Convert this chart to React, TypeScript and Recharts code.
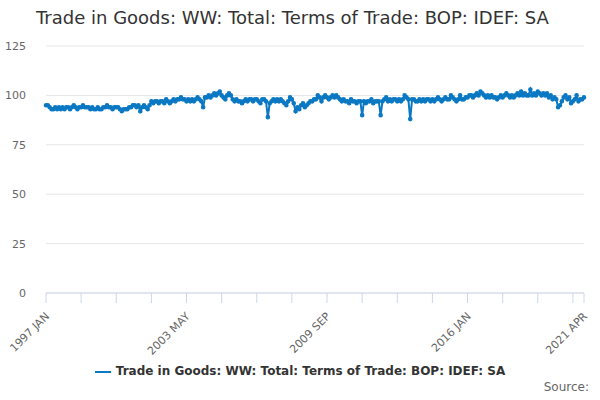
import React from "react";
import { LineChart, Line, XAxis, YAxis, CartesianGrid } from "recharts";

const startYear = 1997;
const monthNames = ["JAN","FEB","MAR","APR","MAY","JUN","JUL","AUG","SEP","OCT","NOV","DEC"];
const values: number[] = [
  95,95,94,93,93,94,93,94,93,94,93,94,
  94,93,94,95,94,93,94,94,95,94,94,94,
  93,94,93,93,94,93,93,94,94,95,94,94,
  93,94,94,94,93,92,93,93,93,94,94,95,
  95,94,95,92,94,95,94,93,95,97,96,97,
  97,96,97,97,96,98,97,96,97,98,97,98,
  98,99,98,98,97,98,97,98,97,98,99,98,
  97,94,99,99,100,99,100,101,100,101,102,100,
  99,98,100,101,100,98,97,98,97,97,96,97,
  98,97,98,98,97,98,98,97,96,98,98,97,
  89,96,97,98,97,98,97,98,97,96,95,97,
  99,98,96,92,94,93,95,96,94,95,96,97,
  97,98,98,100,99,97,99,100,99,98,99,100,
  99,100,99,98,97,98,97,97,96,98,97,97,
  96,97,97,90,97,96,97,97,98,96,97,97,
  97,90,97,98,99,97,98,97,98,98,97,98,
  97,98,100,99,98,88,98,98,97,97,98,97,
  98,97,98,98,97,98,97,98,99,98,97,98,
  99,98,98,100,99,98,97,98,100,98,98,99,
  99,100,100,99,100,101,100,102,101,100,99,100,
  99,100,99,99,98,99,100,99,100,101,100,99,
  100,99,100,101,100,102,100,101,100,100,103,100,
  101,100,102,101,100,101,100,101,99,100,98,99,
  98,94,95,97,99,100,98,99,96,97,98,100,
  97,98,98,99,
];
const labelIdx = [0, 76, 152, 228, 291];
const xTicks = [0,19,38,57,76,95,114,133,152,171,190,209,228,247,266,285,291];
const yTicks = [0, 25, 50, 75, 100, 125];
const seriesName = "Trade in Goods: WW: Total: Terms of Trade: BOP: IDEF: SA";

const data = values.map((v, i) => ({
  i,
  label: `${startYear + Math.floor(i / 12)} ${monthNames[i % 12]}`,
  v,
}));

const font = "'DejaVu Sans', Verdana, sans-serif";
const color = "#0a78c2";

const XTick = (props: any) => {
  const { x, y, payload } = props;
  if (!labelIdx.includes(payload.value)) return null;
  return (
    <text x={x + 4} y={y + 12} transform={`rotate(-45 ${x + 4} ${y + 12})`} textAnchor="end"
      fontSize={11} fill="#666" fontFamily={font}>
      {data[payload.value].label}
    </text>
  );
};

export default function App() {
  return (
    <div style={{ position: "absolute", left: 0, top: 0, width: 600, height: 400, background: "#fff", fontFamily: font }}>
      <div style={{ position: "absolute", left: 36, top: 7, fontSize: 18, color: "#333" }}>
        Trade in Goods: WW: Total: Terms of Trade: BOP: IDEF: SA
      </div>
      <LineChart width={600} height={400} data={data} margin={{ top: 46, right: 16, left: 0, bottom: 47 }}>
        <CartesianGrid vertical={false} stroke="#e6e6e6" />
        <XAxis dataKey="i" type="number" domain={[0, 291]} ticks={xTicks} interval={0}
          tick={<XTick />} tickLine={{ stroke: "#ccd6eb" }} tickSize={10}
          axisLine={{ stroke: "#ccd6eb" }} height={60} />
        <YAxis domain={[0, 125]} ticks={yTicks} width={46} axisLine={false} tickLine={false}
          tick={{ fontSize: 11, fill: "#666", fontFamily: font }} tickMargin={14} />
        <Line dataKey="v" stroke={color} strokeWidth={2} isAnimationActive={false}
          dot={{ r: 1.3, fill: color, stroke: color }} />
      </LineChart>
      <div style={{ position: "absolute", left: 0, width: 600, top: 364, textAlign: "center", fontSize: 12, fontWeight: "bold", color: "#333" }}>
        <span style={{ display: "inline-block", width: 16, height: 2, background: color, verticalAlign: "middle", marginRight: 5 }} />
        {seriesName}
      </div>
      <div style={{ position: "absolute", right: 11, top: 380, fontSize: 12, color: "#666" }}>Source:</div>
    </div>
  );
}
